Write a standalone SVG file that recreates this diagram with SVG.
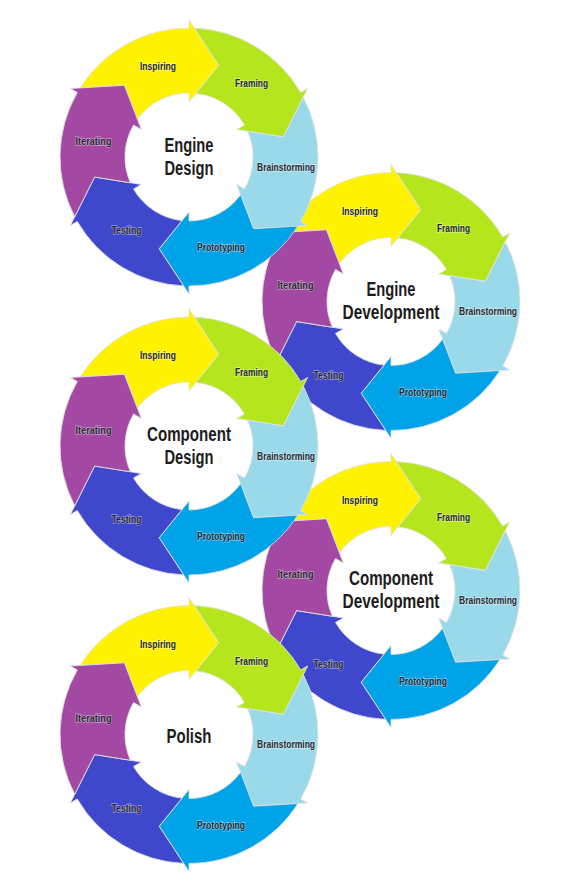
<svg xmlns="http://www.w3.org/2000/svg" xmlns:xlink="http://www.w3.org/1999/xlink" width="588" height="883" viewBox="0 0 588 883">
<style>
.s{stroke:#e2e2e2;stroke-width:0.8}
.c0{fill:#FFF200}.c1{fill:#B5E61D}.c2{fill:#99D9EA}.c3{fill:#00A2E8}.c4{fill:#3F48CC}.c5{fill:#A349A4}
.l{font-family:"Liberation Sans Narrow","Liberation Sans",Arial,sans-serif;font-weight:bold;font-size:11.5px;fill:#262630;stroke:#ffffff;stroke-opacity:0.5;stroke-width:1.3px;paint-order:stroke;text-anchor:middle}
.t{font-family:"Liberation Sans Narrow","Liberation Sans",Arial,sans-serif;font-weight:bold;font-size:19.5px;fill:#1c1c1c;text-anchor:middle}
</style>
<defs>
<path id="seg" d="M -108.95,-69.08 A 129 129 0 0 1 0,-129 L 0,-137 L 29.82,-91.78 L 0,-55 L 0,-64 A 64 64 0 0 0 -51.60,-37.86 L -64.57,-71.71 Z"/>
<g id="ring">
<use xlink:href="#seg" class="s c0"/>
<use xlink:href="#seg" class="s c1" transform="rotate(60)"/>
<use xlink:href="#seg" class="s c2" transform="rotate(120)"/>
<use xlink:href="#seg" class="s c3" transform="rotate(180)"/>
<use xlink:href="#seg" class="s c4" transform="rotate(240)"/>
<use xlink:href="#seg" class="s c5" transform="rotate(300)"/>
</g>
<g id="labels">
<text class="l" x="-31" y="-87" textLength="36" lengthAdjust="spacingAndGlyphs">Inspiring</text>
<text class="l" x="62.5" y="-70" textLength="33" lengthAdjust="spacingAndGlyphs">Framing</text>
<text class="l" x="97" y="13.5" textLength="58" lengthAdjust="spacingAndGlyphs">Brainstorming</text>
<text class="l" x="32" y="94" textLength="48" lengthAdjust="spacingAndGlyphs">Prototyping</text>
<text class="l" x="-62.5" y="77" textLength="30" lengthAdjust="spacingAndGlyphs">Testing</text>
<text class="l" x="-95.5" y="-12.5" textLength="36" lengthAdjust="spacingAndGlyphs">Iterating</text>
</g>
</defs>

<g id="engine-development" transform="translate(391,301.5)">
<use xlink:href="#ring"/>
<use xlink:href="#labels"/>
<text class="t" x="0" y="-5.5" textLength="49" lengthAdjust="spacingAndGlyphs">Engine</text>
<text class="t" x="0" y="17" textLength="97" lengthAdjust="spacingAndGlyphs">Development</text>
</g>

<g id="component-development" transform="translate(391,590.5)">
<use xlink:href="#ring"/>
<use xlink:href="#labels"/>
<text class="t" x="0" y="-5.5" textLength="84" lengthAdjust="spacingAndGlyphs">Component</text>
<text class="t" x="0" y="17" textLength="97" lengthAdjust="spacingAndGlyphs">Development</text>
</g>

<g id="engine-design" transform="translate(189,157)">
<use xlink:href="#ring"/>
<use xlink:href="#labels"/>
<text class="t" x="0" y="-5" textLength="49" lengthAdjust="spacingAndGlyphs">Engine</text>
<text class="t" x="0" y="17.5" textLength="49" lengthAdjust="spacingAndGlyphs">Design</text>
</g>

<g id="component-design" transform="translate(189,446)">
<use xlink:href="#ring"/>
<use xlink:href="#labels"/>
<text class="t" x="0" y="-5" textLength="84" lengthAdjust="spacingAndGlyphs">Component</text>
<text class="t" x="0" y="17.5" textLength="49" lengthAdjust="spacingAndGlyphs">Design</text>
</g>

<g id="polish" transform="translate(189,734.5)">
<use xlink:href="#ring"/>
<use xlink:href="#labels"/>
<text class="t" x="0" y="8" textLength="45" lengthAdjust="spacingAndGlyphs">Polish</text>
</g>
</svg>
